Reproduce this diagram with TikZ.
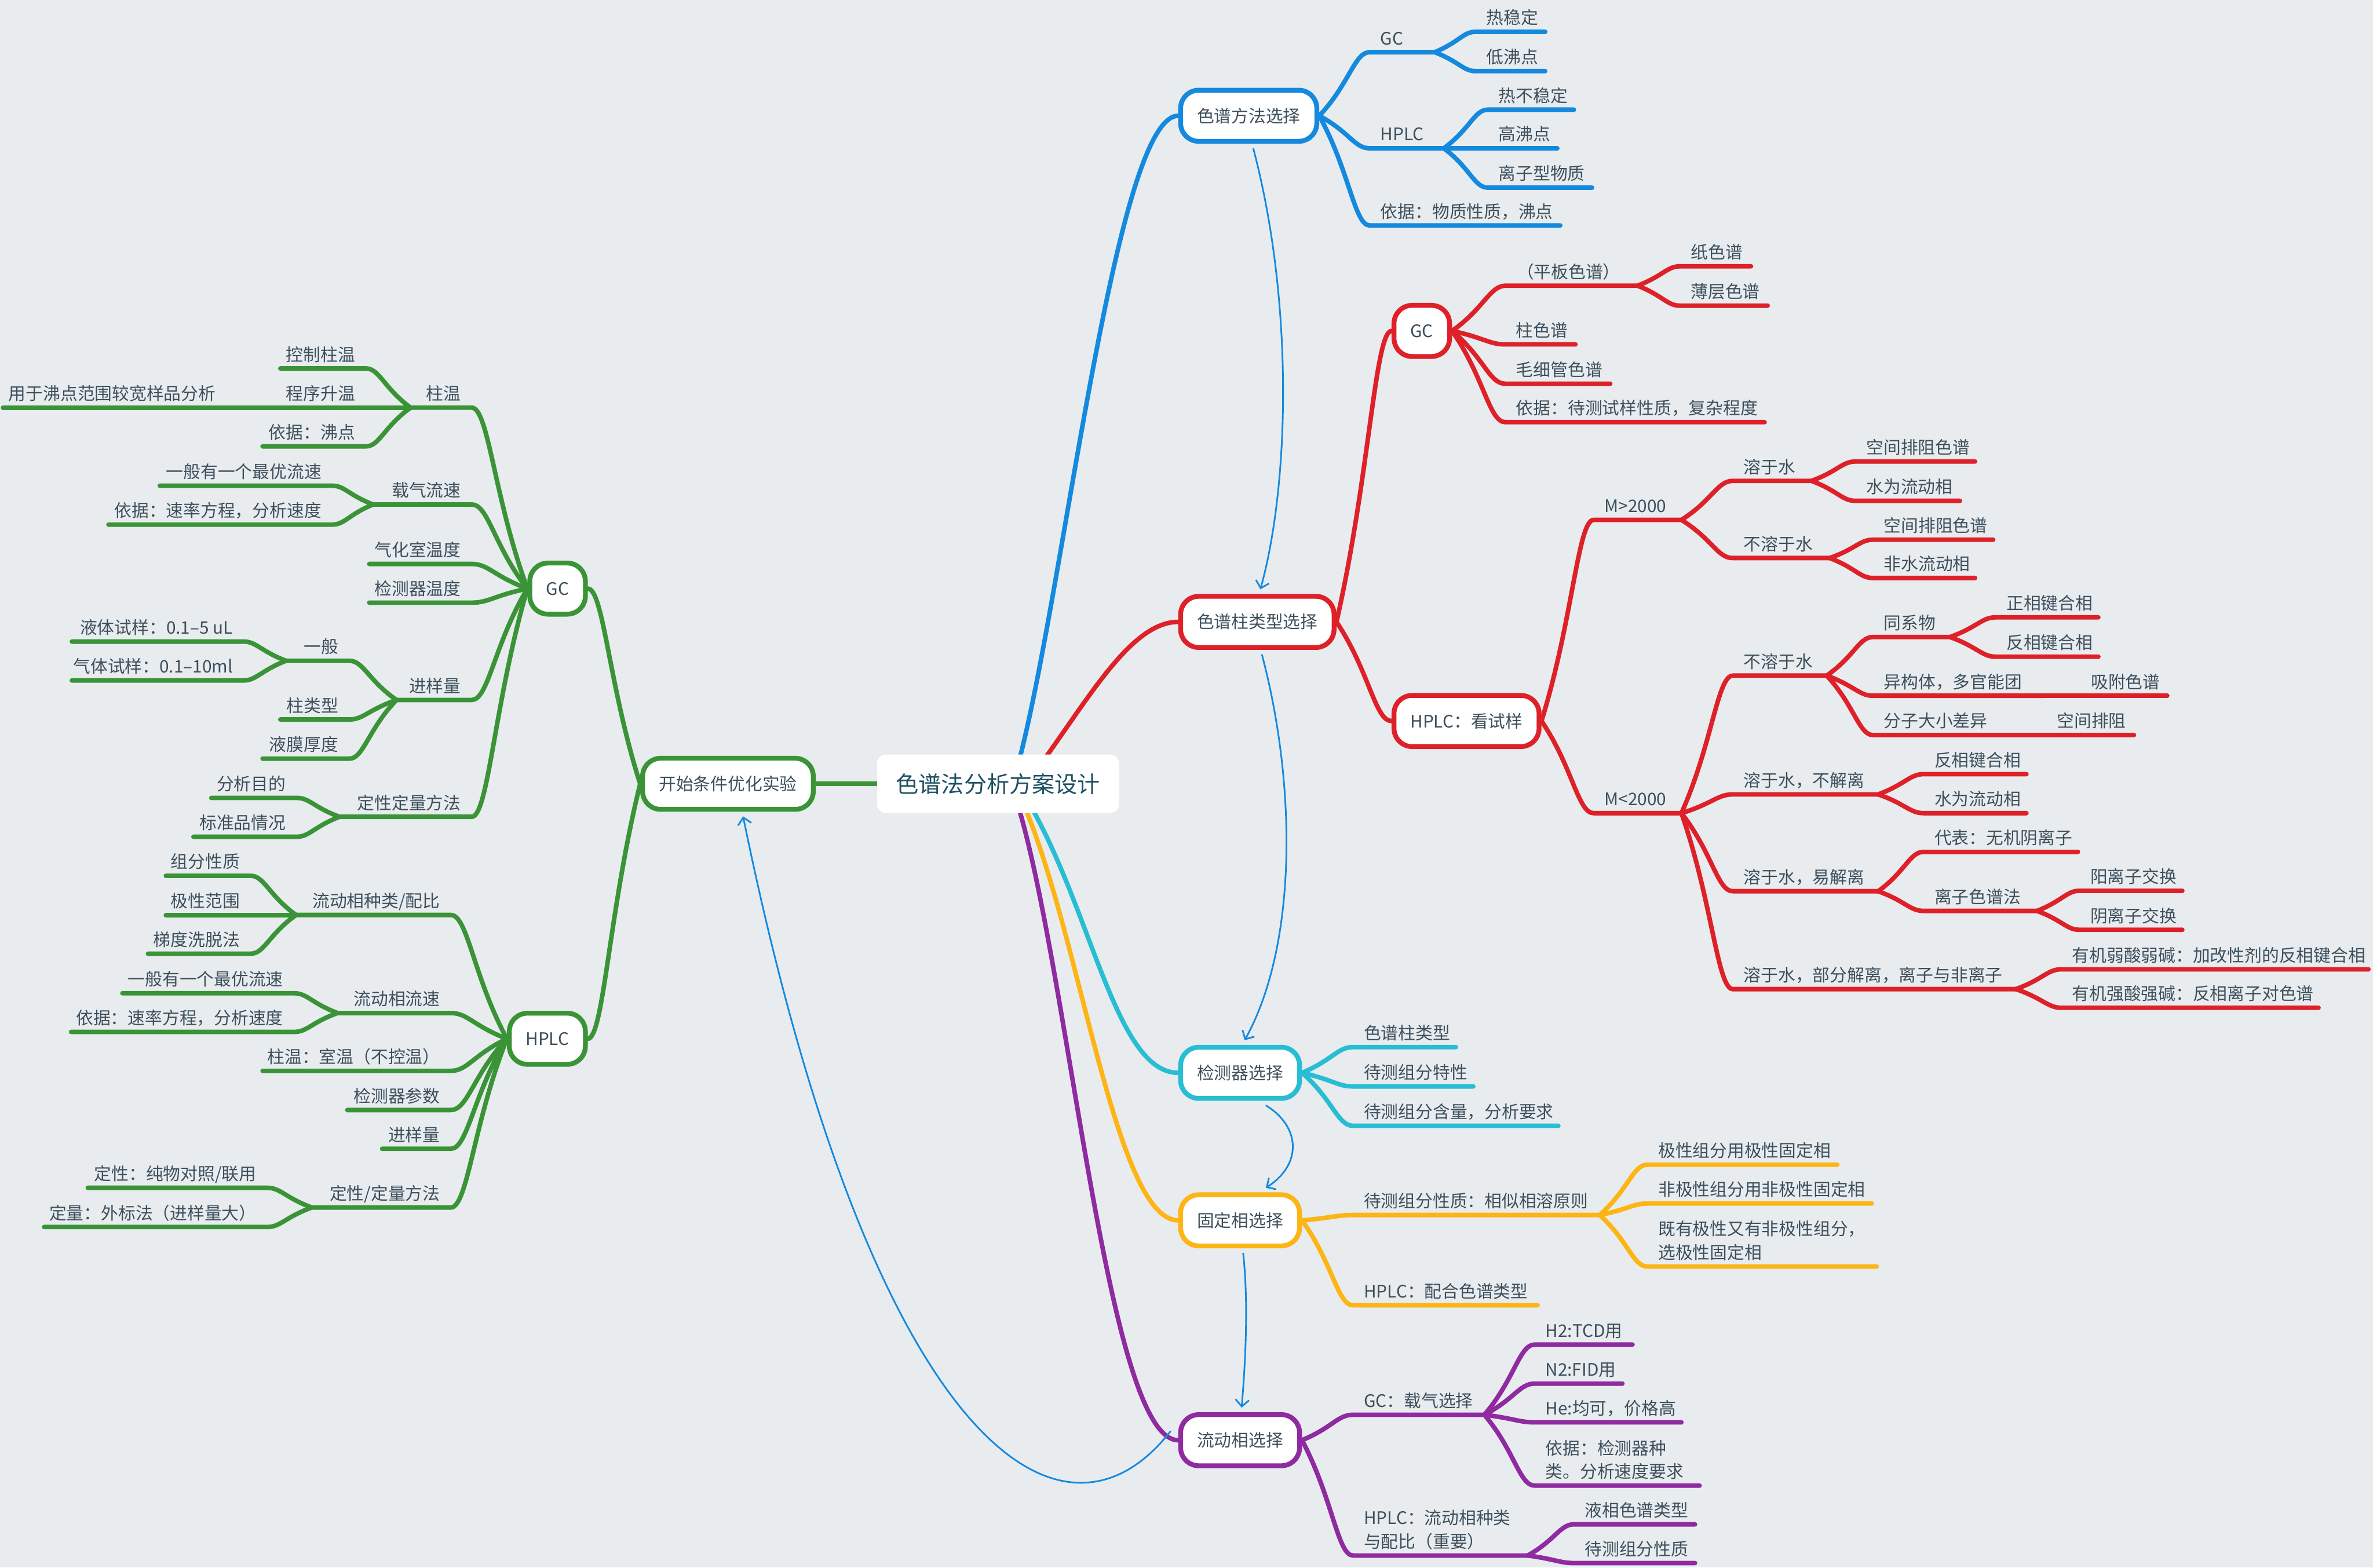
\documentclass[tikz,border=0pt]{standalone}
\usepackage{fontspec}
\setmainfont{Noto Sans CJK SC}
\usetikzlibrary{arrows.meta,calc}
\pgfdeclarelayer{back}\pgfdeclarelayer{lines}
\pgfsetlayers{back,lines,main}
\definecolor{bgc}{HTML}{E8ECEF}
\definecolor{txtc}{HTML}{3D4F5C}
\definecolor{rootc}{HTML}{1E5163}
\definecolor{cblue}{HTML}{1589DE}
\definecolor{cred}{HTML}{DE2129}
\definecolor{cgreen}{HTML}{3A9437}
\definecolor{ccyan}{HTML}{28BDD3}
\definecolor{cyell}{HTML}{FDB515}
\definecolor{cpurp}{HTML}{8F2AA0}
\definecolor{relc}{HTML}{1589DE}
\tikzset{
  txt/.style={font=\fontsize{11.4}{15.5}\selectfont, text=txtc, inner sep=0pt},
  br/.style={line width=3pt, line cap=round, line join=round},
  brc/.style={},
  topic/.style={draw, line width=3.2pt, fill=white, rounded corners=12pt, minimum height=33.8pt, inner xsep=10.8pt, inner ysep=0pt, font=\fontsize{11.4}{15.5}\selectfont, text=txtc},
  rel/.style={draw=relc, line width=1.1pt, -{Straight Barb[length=4.5pt,width=9pt]}},
}
\newcommand\twol[2]{\begin{tabular}[b]{@{}l@{}}#1\\#2\end{tabular}}
\newcommand\curveto[3]{%
  \begin{pgfonlayer}{lines}
  \draw[br,brc] let \p1=(#1), \p2=(#2) in (\p1) .. controls ({\x1+0.6*(\x2-\x1)},{\y1+0.5*(\y2-\y1)}) and ({\x1+0.7*(\x2-\x1)},{\y2}) .. (\p2) -- (#3);
  \end{pgfonlayer}}
\newcommand\ncurve[2]{%
  \begin{pgfonlayer}{lines}
  \draw[br,brc] let \p1=(#1), \p2=(#2) in (\p1) .. controls ({\x1+0.6*(\x2-\x1)},{\y1+0.5*(\y2-\y1)}) and ({\x1+0.7*(\x2-\x1)},{\y2}) .. (\p2);
  \end{pgfonlayer}}
% right leaf: name, parent, line y, line end x, text left x, text
\newcommand\lfR[6]{%
  \coordinate (#1-s) at ({#5-7},#3);
  \coordinate (#1-e) at (#4,#3);
  \node[txt,anchor=base west] (#1) at (#5,{#3-5}) {#6};
  \curveto{#2}{#1-s}{#1-e}}
% left leaf: name, parent, line y, line left end x, text right x, text
\newcommand\lfL[6]{%
  \coordinate (#1-s) at ({#5+7},#3);
  \coordinate (#1-e) at (#4,#3);
  \node[txt,anchor=base east] (#1) at (#5,{#3-5}) {#6};
  \curveto{#2}{#1-s}{#1-e}}
\begin{document}
\begin{tikzpicture}[x=1pt,y=-1pt]
\useasboundingbox (0,0) rectangle (1568,1036);
\begin{pgfonlayer}{back}
\fill[bgc] (0,0) rectangle (1568,1036);
\end{pgfonlayer}

% root
\node[fill=white, rounded corners=6pt, minimum width=160pt, minimum height=38.7pt, inner sep=0pt, font=\fontsize{15}{18}\selectfont, text=rootc] (root) at (659.5,518) {色谱法分析方案设计};

% ---------------- blue
\begin{scope}[brc/.style={draw=cblue}]
\node[topic,draw=cblue,anchor=west] (m1) at (778.5,76.5) {色谱方法选择};
\begin{pgfonlayer}{lines}
\draw[br,brc] ($(root.center)+(9.5,0)$) .. controls (700,420) and (735,76.5) .. (m1.west);
\end{pgfonlayer}
\lfR{b1}{m1.east}{34.5}{948}{912}{GC}
\lfR{b11}{b1-e}{21}{1021}{982}{热稳定}
\lfR{b12}{b1-e}{47}{1021}{982}{低沸点}
\lfR{b2}{m1.east}{98}{954}{912}{HPLC}
\lfR{b21}{b2-e}{72.5}{1040}{990}{热不稳定}
\lfR{b22}{b2-e}{98}{1029}{990}{高沸点}
\lfR{b23}{b2-e}{124}{1052}{990}{离子型物质}
\lfR{b3}{m1.east}{149}{1031}{912}{依据：物质性质，沸点}
\end{scope}

% ---------------- red
\begin{scope}[brc/.style={draw=cred}]
\node[topic,draw=cred,anchor=west] (m2) at (778.5,411) {色谱柱类型选择};
\node[topic,draw=cred,anchor=west] (r1) at (919.5,218.7) {GC};
\node[topic,draw=cred,anchor=west] (r2) at (919.5,476.5) {HPLC：看试样};
\begin{pgfonlayer}{lines}
\draw[br,brc] ($(root.center)+(18.5,0)$) .. controls (715,470) and (745,411) .. (m2.west);
\end{pgfonlayer}
\ncurve{m2.east}{r1.west}
\ncurve{m2.east}{r2.west}
\lfR{r11}{r1.east}{188.8}{1082}{1002}{（平板色谱）}
\lfR{r111}{r11-e}{176}{1157}{1117}{纸色谱}
\lfR{r112}{r11-e}{202}{1168}{1117}{薄层色谱}
\lfR{r12}{r1.east}{227.6}{1041}{1001.6}{柱色谱}
\lfR{r13}{r1.east}{253.6}{1064}{1001.6}{毛细管色谱}
\lfR{r14}{r1.east}{279}{1166}{1001.6}{依据：待测试样性质，复杂程度}
\lfR{r21}{r2.east}{343.6}{1111}{1060}{M>2000}
\lfR{r211}{r21-e}{317.8}{1197}{1152}{溶于水}
\lfR{r2111}{r211-e}{305}{1305}{1233}{空间排阻色谱}
\lfR{r2112}{r211-e}{331}{1295}{1233}{水为流动相}
\lfR{r212}{r21-e}{368.8}{1209}{1152}{不溶于水}
\lfR{r2121}{r212-e}{356.7}{1317}{1244.6}{空间排阻色谱}
\lfR{r2122}{r212-e}{382}{1305}{1244.6}{非水流动相}
\lfR{r22}{r2.east}{537.4}{1111}{1060}{M<2000}
\lfR{r221}{r22-e}{446.5}{1207}{1152}{不溶于水}
\lfR{r2211}{r221-e}{421}{1288.5}{1244.6}{同系物}
\lfR{r22111}{r2211-e}{408}{1386.5}{1325.6}{正相键合相}
\lfR{r22112}{r2211-e}{434}{1386.5}{1325.6}{反相键合相}
\lfR{r2212}{r221-e}{459.8}{1352}{1244.6}{异构体，多官能团}
\lfR{r22121}{r2212-e}{459.8}{1432}{1381.5}{吸附色谱}
\lfR{r2213}{r221-e}{485.8}{1325}{1244.6}{分子大小差异}
\lfR{r22131}{r2213-e}{485.8}{1410}{1359}{空间排阻}
\lfR{r222}{r22-e}{525}{1241}{1152}{溶于水，不解离}
\lfR{r2221}{r222-e}{511.6}{1339}{1278}{反相键合相}
\lfR{r2222}{r222-e}{537.4}{1339}{1278}{水为流动相}
\lfR{r223}{r22-e}{589}{1241}{1152}{溶于水，易解离}
\lfR{r2231}{r223-e}{563}{1373}{1278}{代表：无机阴离子}
\lfR{r2232}{r223-e}{602}{1346}{1278}{离子色谱法}
\lfR{r22321}{r2232-e}{588.7}{1442}{1381}{阳离子交换}
\lfR{r22322}{r2232-e}{614.5}{1442}{1381}{阴离子交换}
\lfR{r224}{r22-e}{653.7}{1332}{1152}{溶于水，部分解离，离子与非离子}
\lfR{r2241}{r224-e}{640.6}{1565}{1369}{有机弱酸弱碱：加改性剂的反相键合相}
\lfR{r2242}{r224-e}{666}{1532}{1369}{有机强酸强碱：反相离子对色谱}
\end{scope}

% ---------------- cyan
\begin{scope}[brc/.style={draw=ccyan}]
\node[topic,draw=ccyan,anchor=west] (m3) at (778.5,709) {检测器选择};
\begin{pgfonlayer}{lines}
\draw[br,brc] ($(root.center)+(12.5,0)$) .. controls (720,590) and (735,709) .. (m3.west);
\end{pgfonlayer}
\lfR{c1}{m3.east}{692}{962}{901}{色谱柱类型}
\lfR{c2}{m3.east}{718}{973.5}{901}{待测组分特性}
\lfR{c3}{m3.east}{744}{1029.7}{901}{待测组分含量，分析要求}
\end{scope}

% ---------------- yellow
\begin{scope}[brc/.style={draw=cyell}]
\node[topic,draw=cyell,anchor=west] (m4) at (778.5,806.5) {固定相选择};
\begin{pgfonlayer}{lines}
\draw[br,brc] ($(root.center)+(10.5,0)$) .. controls (712,600) and (735,806.5) .. (m4.west);
\end{pgfonlayer}
\lfR{y1}{m4.east}{803}{1057}{901}{待测组分性质：相似相溶原则}
\lfR{y11}{y1-e}{769.7}{1214}{1095.5}{极性组分用极性固定相}
\lfR{y12}{y1-e}{795.4}{1236.8}{1095.5}{非极性组分用非极性固定相}
\lfR{y13}{y1-e}{837}{1240}{1095.5}{\twol{既有极性又有非极性组分，}{选极性固定相}}
\lfR{y2}{m4.east}{862.6}{1016}{901}{HPLC：配合色谱类型}
\end{scope}

% ---------------- purple
\begin{scope}[brc/.style={draw=cpurp}]
\node[topic,draw=cpurp,anchor=west] (m5) at (778.5,951.8) {流动相选择};
\begin{pgfonlayer}{lines}
\draw[br,brc] ($(root.center)+(8.5,0)$) .. controls (705,620) and (730,951.8) .. (m5.west);
\end{pgfonlayer}
\lfR{p1}{m5.east}{935}{980.8}{901}{GC：载气选择}
\lfR{p11}{p1-e}{888.6}{1078.7}{1021}{H2:TCD用}
\lfR{p12}{p1-e}{914.4}{1072}{1021}{N2:FID用}
\lfR{p13}{p1-e}{940}{1111}{1021}{He:均可，价格高}
\lfR{p14}{p1-e}{981.8}{1123}{1021}{\twol{依据：检测器种}{类。分析速度要求}}
\lfR{p2}{m5.east}{1028}{1009.5}{901}{\twol{HPLC：流动相种类}{与配比（重要）}}
\lfR{p21}{p2-e}{1007.4}{1120}{1047}{液相色谱类型}
\lfR{p22}{p2-e}{1033}{1120}{1047}{待测组分性质}
\end{scope}

% ---------------- green
\begin{scope}[brc/.style={draw=cgreen}]
\node[topic,draw=cgreen] (m6) at (481,518) {开始条件优化实验};
\node[topic,draw=cgreen,anchor=east] (g1) at (388.4,389) {GC};
\node[topic,draw=cgreen,anchor=east] (g2) at (388.4,686.5) {HPLC};
\begin{pgfonlayer}{lines}
\draw[br,brc] (root.center) -- (m6.east);
\end{pgfonlayer}
\ncurve{m6.west}{g1.east}
\ncurve{m6.west}{g2.east}
\lfL{g11}{g1.west}{269.4}{271.3}{304.7}{柱温}
\lfL{g111}{g11-e}{243.5}{185.2}{234.8}{控制柱温}
\lfL{g112}{g11-e}{269.4}{160}{234.8}{程序升温}
\lfL{g1121}{g112-e}{269.4}{2}{142.7}{用于沸点范围较宽样品分析}
\lfL{g113}{g11-e}{295}{173.5}{234.8}{依据：沸点}
\lfL{g12}{g1.west}{333.4}{246.5}{304.7}{载气流速}
\lfL{g121}{g12-e}{321}{105.6}{212.6}{一般有一个最优流速}
\lfL{g122}{g12-e}{346.7}{71.7}{212.6}{依据：速率方程，分析速度}
\lfL{g13}{g1.west}{372.7}{244}{304.7}{气化室温度}
\lfL{g14}{g1.west}{398.3}{244}{304.7}{检测器温度}
\lfL{g15}{g1.west}{462.6}{262}{304.7}{进样量}
\lfL{g151}{g15-e}{436.7}{189}{223.8}{一般}
\lfL{g1511}{g151-e}{424}{47.5}{154}{液体试样：0.1–5 uL}
\lfL{g1512}{g151-e}{449.7}{47.5}{154}{气体试样：0.1–10ml}
\lfL{g152}{g15-e}{475.5}{185.2}{223.8}{柱类型}
\lfL{g153}{g15-e}{501.4}{173.5}{223.8}{液膜厚度}
\lfL{g16}{g1.west}{539.8}{224.3}{304.7}{定性定量方法}
\lfL{g161}{g16-e}{527.3}{139.6}{189}{分析目的}
\lfL{g162}{g16-e}{553}{127.8}{189}{标准品情况}
\lfL{g21}{g2.west}{604.7}{195.6}{290.9}{流动相种类/配比}
\lfL{g211}{g21-e}{578.8}{109.6}{158.6}{组分性质}
\lfL{g212}{g21-e}{604.7}{109.6}{158.6}{极性范围}
\lfL{g213}{g21-e}{630.3}{97.8}{158.6}{梯度洗脱法}
\lfL{g22}{g2.west}{669.5}{223}{290.9}{流动相流速}
\lfL{g221}{g22-e}{656.4}{80.9}{187.3}{一般有一个最优流速}
\lfL{g222}{g22-e}{682}{47}{187.3}{依据：速率方程，分析速度}
\lfL{g23}{g2.west}{707.7}{173.5}{290.9}{柱温：室温（不控温）}
\lfL{g24}{g2.west}{733.6}{229.5}{290.9}{检测器参数}
\lfL{g25}{g2.west}{759.2}{252.5}{290.9}{进样量}
\lfL{g26}{g2.west}{798}{206}{290.9}{定性/定量方法}
\lfL{g261}{g26-e}{785}{58}{169.6}{定性：纯物对照/联用}
\lfL{g262}{g26-e}{810.9}{29.2}{169.6}{定量：外标法（进样量大）}
\end{scope}

% ---------------- relationship arrows
\draw[rel] ($(m1.south)+(3,3)$) .. controls (855,200) and (852,320) .. ($(m2.north)+(2,-3)$);
\draw[rel] ($(m2.south)+(3,3)$) .. controls (857,520) and (857,625) .. ($(m3.north)+(3,-3)$);
\draw[rel] ($(m3.south)+(17,3)$) .. controls (860,745) and (860,770) .. ($(m4.north)+(17,-3)$);
\draw[rel] ($(m4.south)+(2,3)$) .. controls (825,860) and (823,900) .. ($(m5.north)+(1,-3)$);
\draw[rel] ($(m5.west)+(-5,-6)$) .. controls (700,1040) and (575,950) .. ($(m6.south)+(10,3)$);
\end{tikzpicture}
\end{document}
